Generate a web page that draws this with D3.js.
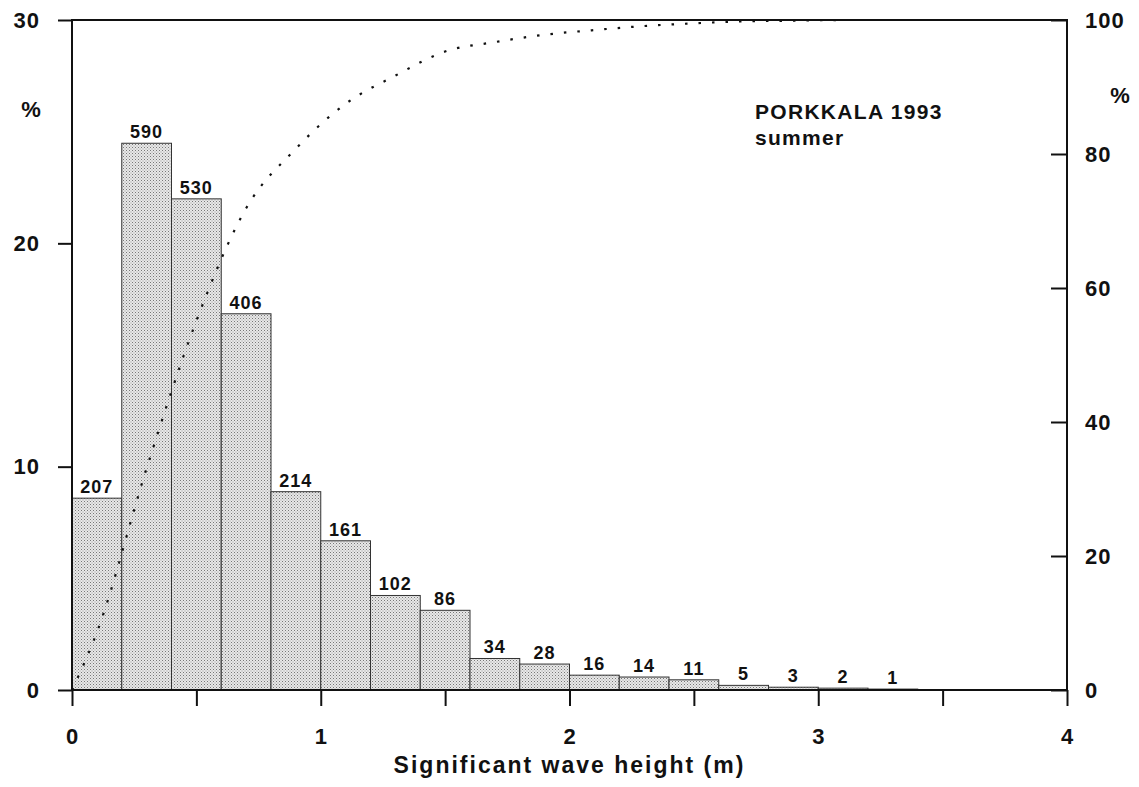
<!DOCTYPE html>
<html>
<head>
<meta charset="utf-8">
<script src="https://cdn.jsdelivr.net/npm/d3@7"></script>
<style>
  html, body { margin: 0; padding: 0; background: #fff; }
  svg { display: block; }
  text { font-family: "Liberation Sans", Arial, Helvetica, sans-serif; font-weight: bold; fill: #111; }
</style>
</head>
<body>
<svg id="chart" width="1139" height="787"></svg>
<script>
// ---- data ----
const binStarts = [0, 0.2, 0.4, 0.6, 0.8, 1.0, 1.2, 1.4, 1.6, 1.8, 2.0, 2.2, 2.4, 2.6, 2.8, 3.0, 3.2];
const binWidth = 0.2;
const counts = [207, 590, 530, 406, 214, 161, 102, 86, 34, 28, 16, 14, 11, 5, 3, 2, 1];
const cumX = [0, 0.1, 0.3, 0.5, 0.7, 0.9, 1.1, 1.3, 1.5, 1.7, 1.9, 2.1, 2.3, 2.5, 2.7, 2.9, 3.1, 3.3];
const cumPct = [0, 8.6, 33.1, 55.1, 71.9, 80.8, 87.5, 91.7, 95.3, 96.7, 97.8, 98.5, 99.1, 99.5, 99.8, 99.9, 100, 100];
const xTicks = [0, 0.5, 1, 1.5, 2, 2.5, 3, 3.5, 4];
const xTickLabels = ["0", "", "1", "", "2", "", "3", "", "4"];
const yLeftTicks = [0, 10, 20, 30];
const yRightTicks = [0, 20, 40, 60, 80, 100];
const titleLines = ["PORKKALA 1993", "summer"];
const xTitle = "Significant wave height (m)";

// ---- layout ----
const svg = d3.select("#chart");
const L = 72, R = 1067, T = 20, B = 690;
const x = d3.scaleLinear().domain([0, 4]).range([L, R]);
const yL = d3.scaleLinear().domain([0, 30]).range([B, T]);
const yR = d3.scaleLinear().domain([0, 100]).range([B, T]);
const total = d3.sum(counts);
const pct = counts.map(c => c / total * 100);

// stipple pattern
const defs = svg.append("defs");
const pat = defs.append("pattern").attr("id", "stip")
  .attr("patternUnits", "userSpaceOnUse").attr("width", 3).attr("height", 3);
pat.append("rect").attr("width", 3).attr("height", 3).attr("fill", "#e8e8e8");
pat.append("rect").attr("x", 0).attr("y", 0).attr("width", 1).attr("height", 1).attr("fill", "#777");
pat.append("rect").attr("x", 1.5).attr("y", 1.5).attr("width", 1).attr("height", 1).attr("fill", "#999");

// bars
svg.append("g").selectAll("rect").data(counts).join("rect")
  .attr("x", (d, i) => x(binStarts[i]))
  .attr("width", (d, i) => x(binStarts[i] + binWidth) - x(binStarts[i]))
  .attr("y", (d, i) => yL(pct[i]))
  .attr("height", (d, i) => B - yL(pct[i]))
  .attr("fill", "url(#stip)")
  .attr("stroke", "#333")
  .attr("stroke-width", 1);

// bar labels
svg.append("g").selectAll("text").data(counts).join("text")
  .attr("x", (d, i) => x(binStarts[i] + binWidth / 2))
  .attr("y", (d, i) => yL(pct[i]) - 5)
  .attr("text-anchor", "middle")
  .attr("font-size", 18)
  .attr("letter-spacing", 1)
  .text(d => d);

// cumulative dotted curve
const line = d3.line()
  .x((d, i) => x(cumX[i]))
  .y(d => yR(d))
  .curve(d3.curveMonotoneX);
svg.append("path")
  .attr("d", line(cumPct))
  .attr("fill", "none")
  .attr("stroke", "#111")
  .attr("stroke-width", 2.2)
  .attr("stroke-dasharray", "2.5,11");

// axes via d3
const xAxis = d3.axisBottom(x).tickValues(xTicks).tickSize(16).tickPadding(22)
  .tickFormat((d, i) => xTickLabels[i]);
const gx = svg.append("g").attr("transform", `translate(0,${B})`).call(xAxis);

const yAxisL = d3.axisLeft(yL).tickValues(yLeftTicks).tickSize(14).tickPadding(18).tickFormat(d3.format("d"));
const gyl = svg.append("g").attr("transform", `translate(${L},0)`).call(yAxisL);

const yAxisR = d3.axisRight(yR).tickValues(yRightTicks).tickSize(-16).tickPadding(18).tickFormat(d3.format("d"));
const gyr = svg.append("g").attr("transform", `translate(${R},0)`).call(yAxisR);

[gx, gyl, gyr].forEach(g => {
  g.select(".domain").remove();
  g.selectAll(".tick line").attr("stroke", "#111").attr("stroke-width", 2);
  g.selectAll("text").attr("font-size", 22).attr("letter-spacing", 1).attr("fill", "#111").attr("font-family", null);
});

// frame
svg.append("rect")
  .attr("x", L).attr("y", T).attr("width", R - L).attr("height", B - T)
  .attr("fill", "none").attr("stroke", "#111").attr("stroke-width", 2);

// unit labels
svg.append("text").attr("x", 31).attr("y", 117).attr("text-anchor", "middle").attr("font-size", 22).text("%");
svg.append("text").attr("x", 1120).attr("y", 103).attr("text-anchor", "middle").attr("font-size", 22).text("%");

// annotation
svg.append("text").attr("x", 755).attr("y", 119).attr("font-size", 21).attr("letter-spacing", 1.3).text(titleLines[0]);
svg.append("text").attr("x", 755).attr("y", 145).attr("font-size", 21).attr("letter-spacing", 1.3).text(titleLines[1]);

// x title
svg.append("text").attr("x", x(2)).attr("y", 773).attr("text-anchor", "middle").attr("font-size", 23)
  .attr("letter-spacing", 2).text(xTitle);
</script>
</body>
</html>
